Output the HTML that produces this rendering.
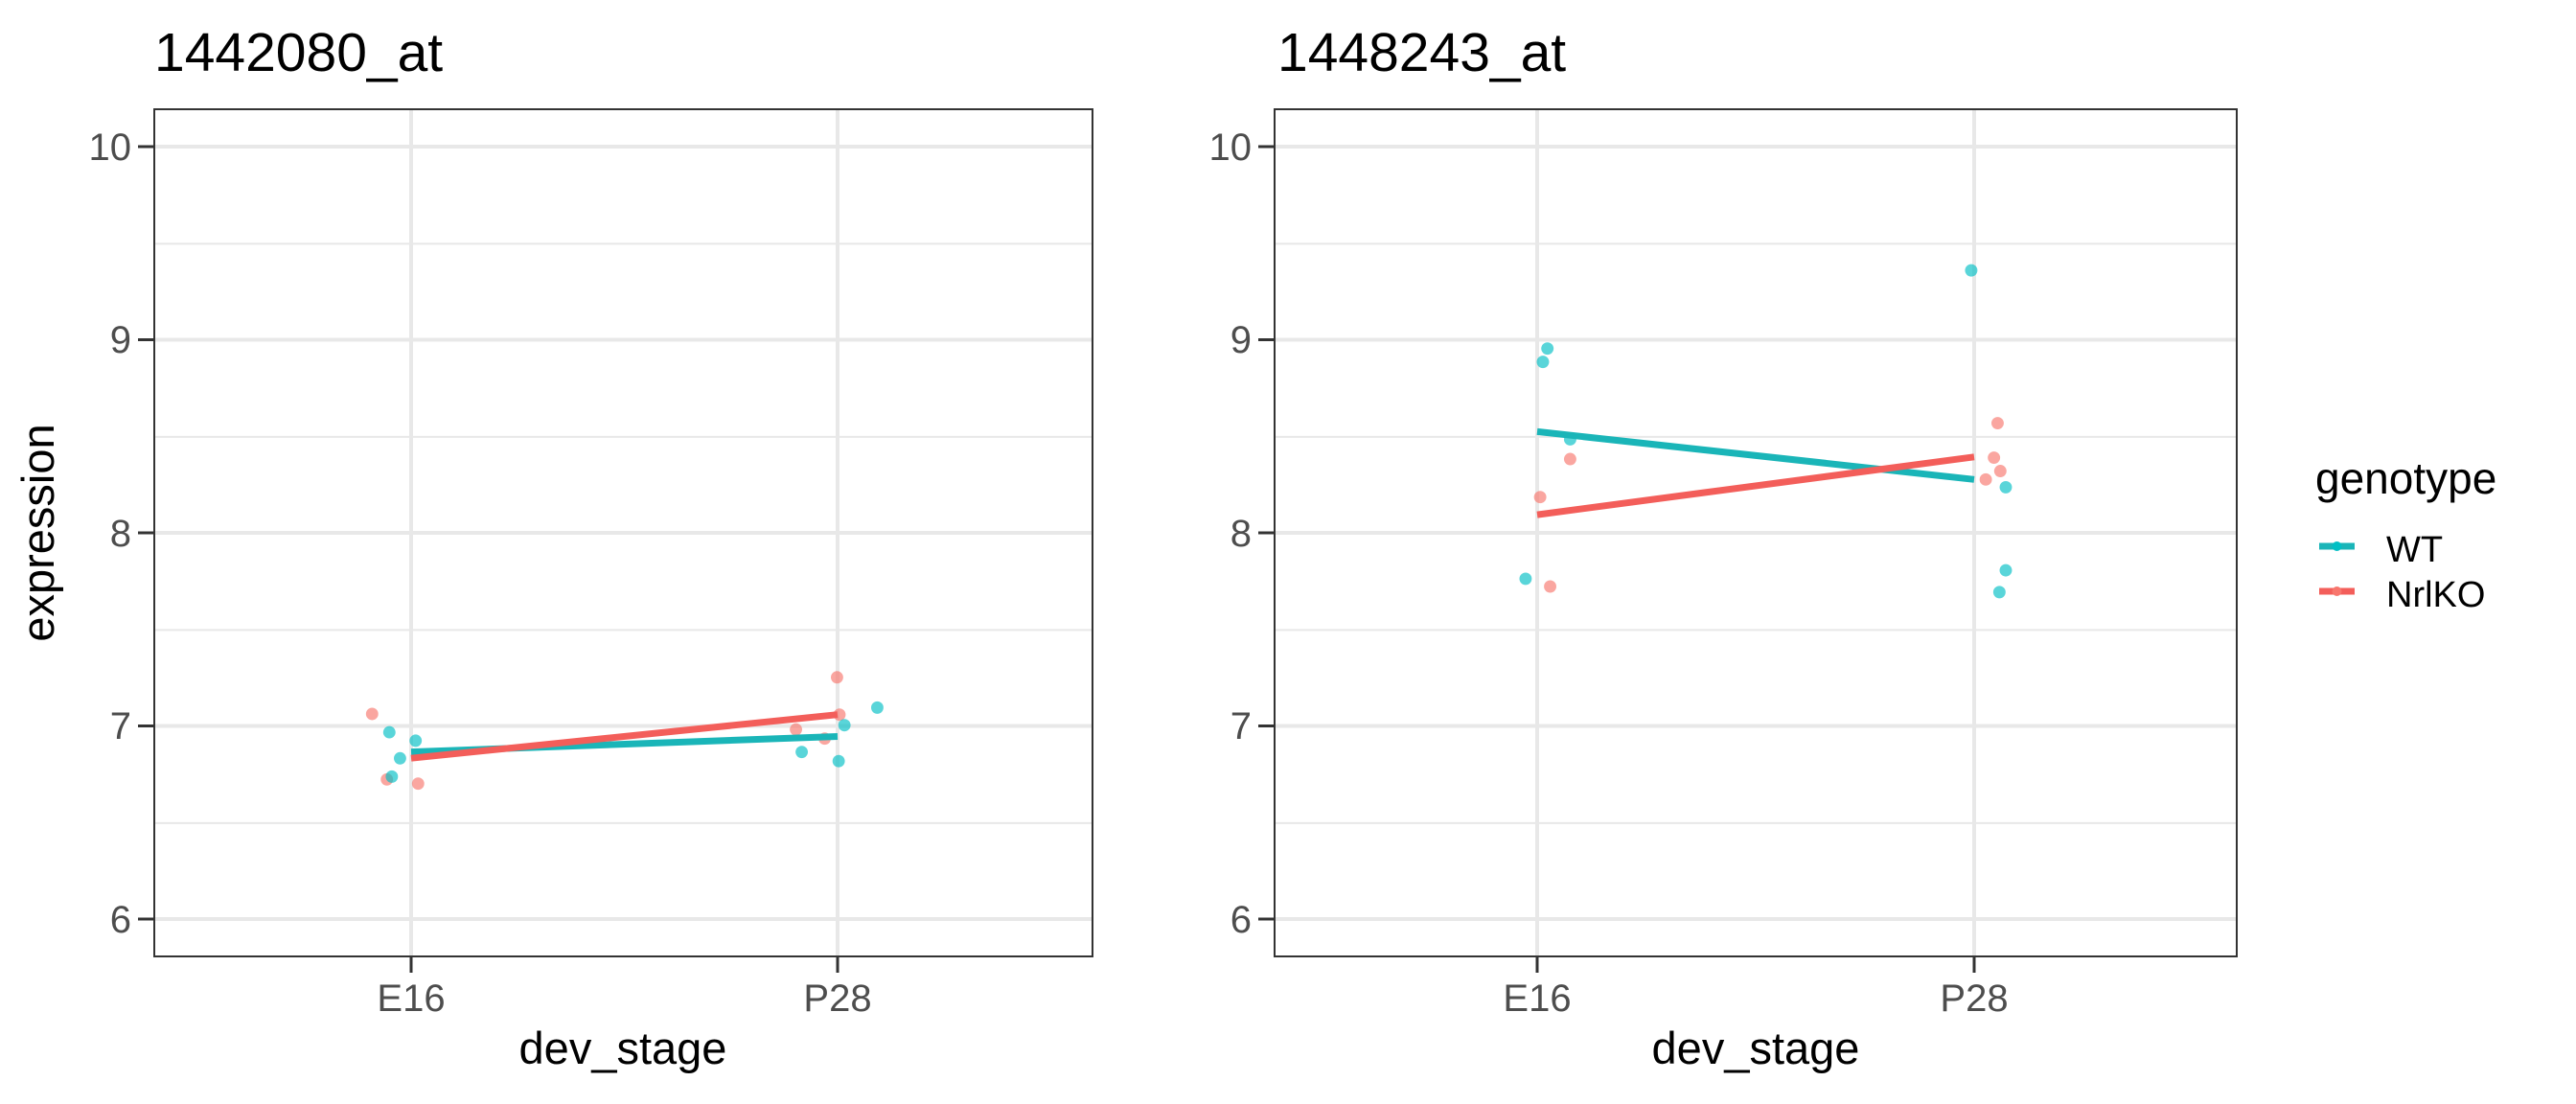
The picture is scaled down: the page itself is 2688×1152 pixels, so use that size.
<!DOCTYPE html>
<html><head><meta charset="utf-8"><style>
html,body{margin:0;padding:0;background:#fff}
svg{display:block}
text{font-family:"Liberation Sans",Arial,sans-serif}
</style></head><body>
<svg width="2688" height="1152" viewBox="0 0 2688 1152" xmlns="http://www.w3.org/2000/svg">
<rect width="2688" height="1152" fill="#fff"/>
<!-- LEFT PANEL -->
<g>
  <g stroke="#e8e8e8">
    <line x1="161" x2="1140" y1="254.4" y2="254.4" stroke-width="2"/>
    <line x1="161" x2="1140" y1="455.9" y2="455.9" stroke-width="2"/>
    <line x1="161" x2="1140" y1="657.4" y2="657.4" stroke-width="2"/>
    <line x1="161" x2="1140" y1="858.9" y2="858.9" stroke-width="2"/>
    <line x1="161" x2="1140" y1="153" y2="153" stroke-width="4"/>
    <line x1="161" x2="1140" y1="354.5" y2="354.5" stroke-width="4"/>
    <line x1="161" x2="1140" y1="556" y2="556" stroke-width="4"/>
    <line x1="161" x2="1140" y1="757.5" y2="757.5" stroke-width="4"/>
    <line x1="161" x2="1140" y1="959" y2="959" stroke-width="4"/>
    <line x1="429" x2="429" y1="114" y2="998" stroke-width="4"/>
    <line x1="874" x2="874" y1="114" y2="998" stroke-width="4"/>
  </g>
  <g transform="scale(0.857143,0.734694)">
    <g fill-opacity="0.65">
      <g fill="#F8766D">
        <ellipse cx="453" cy="1014" rx="7.5" ry="8.8"/><ellipse cx="471" cy="1107" rx="7.5" ry="8.8"/><ellipse cx="509" cy="1113" rx="7.5" ry="8.8"/><ellipse cx="1019" cy="962" rx="7.5" ry="8.8"/><ellipse cx="1022" cy="1015" rx="7.5" ry="8.8"/><ellipse cx="969" cy="1036" rx="7.5" ry="8.8"/><ellipse cx="1004" cy="1049" rx="7.5" ry="8.8"/>
      </g>
      <g fill="#00BFC4">
        <ellipse cx="474" cy="1040" rx="7.5" ry="8.8"/><ellipse cx="487" cy="1077" rx="7.5" ry="8.8"/><ellipse cx="477" cy="1103" rx="7.5" ry="8.8"/><ellipse cx="506" cy="1052" rx="7.5" ry="8.8"/><ellipse cx="976" cy="1068" rx="7.5" ry="8.8"/><ellipse cx="1021" cy="1081" rx="7.5" ry="8.8"/><ellipse cx="1028" cy="1030" rx="7.5" ry="8.8"/><ellipse cx="1068" cy="1005" rx="7.5" ry="8.8"/>
      </g>
    </g>
  </g>
  <line x1="429" y1="784.6" x2="874" y2="768.5" stroke="#1AB5B8" stroke-width="7"/>
  <line x1="429" y1="791.2" x2="874" y2="745.7" stroke="#F35E5A" stroke-width="7"/>
  <rect x="161" y="114" width="979" height="884" fill="none" stroke="#333" stroke-width="2"/>
  <g stroke="#333" stroke-width="3">
    <line x1="144" x2="161" y1="153" y2="153"/><line x1="144" x2="161" y1="354.5" y2="354.5"/><line x1="144" x2="161" y1="556" y2="556"/><line x1="144" x2="161" y1="757.5" y2="757.5"/><line x1="144" x2="161" y1="959" y2="959"/>
    <line x1="429" x2="429" y1="998" y2="1015"/><line x1="874" x2="874" y1="998" y2="1015"/>
  </g>
  <g fill="#4d4d4d" font-size="40" text-anchor="end">
    <text x="137" y="167">10</text><text x="137" y="368">9</text><text x="137" y="570">8</text><text x="137" y="771">7</text><text x="137" y="973">6</text>
  </g>
  <g fill="#4d4d4d" font-size="40" text-anchor="middle">
    <text x="429" y="1055">E16</text><text x="874" y="1055">P28</text>
  </g>
  <text x="650" y="1110" font-size="47" text-anchor="middle" fill="#000">dev_stage</text>
  <text transform="translate(56,556) rotate(-90)" font-size="47" text-anchor="middle" fill="#000">expression</text>
  <text x="161" y="74" font-size="57" fill="#000">1442080_at</text>
</g>
<!-- RIGHT PANEL -->
<g>
  <g stroke="#e8e8e8">
    <line x1="1330" x2="2334" y1="254.4" y2="254.4" stroke-width="2"/>
    <line x1="1330" x2="2334" y1="455.9" y2="455.9" stroke-width="2"/>
    <line x1="1330" x2="2334" y1="657.4" y2="657.4" stroke-width="2"/>
    <line x1="1330" x2="2334" y1="858.9" y2="858.9" stroke-width="2"/>
    <line x1="1330" x2="2334" y1="153" y2="153" stroke-width="4"/>
    <line x1="1330" x2="2334" y1="354.5" y2="354.5" stroke-width="4"/>
    <line x1="1330" x2="2334" y1="556" y2="556" stroke-width="4"/>
    <line x1="1330" x2="2334" y1="757.5" y2="757.5" stroke-width="4"/>
    <line x1="1330" x2="2334" y1="959" y2="959" stroke-width="4"/>
    <line x1="1604" x2="1604" y1="114" y2="998" stroke-width="4"/>
    <line x1="2060" x2="2060" y1="114" y2="998" stroke-width="4"/>
  </g>
  <g transform="translate(1200,0) scale(0.94898,0.734694)">
    <g fill-opacity="0.65">
      <g fill="#00BFC4">
        <ellipse cx="903" cy="384" rx="6.8" ry="8.8"/><ellipse cx="437" cy="495" rx="6.8" ry="8.8"/><ellipse cx="432" cy="514" rx="6.8" ry="8.8"/><ellipse cx="462" cy="624" rx="6.8" ry="8.8"/><ellipse cx="413" cy="822" rx="6.8" ry="8.8"/><ellipse cx="941" cy="692" rx="6.8" ry="8.8"/><ellipse cx="941" cy="810" rx="6.8" ry="8.8"/><ellipse cx="934" cy="841" rx="6.8" ry="8.8"/>
      </g>
      <g fill="#F8766D">
        <ellipse cx="429" cy="706" rx="6.8" ry="8.8"/><ellipse cx="462" cy="652" rx="6.8" ry="8.8"/><ellipse cx="440" cy="833" rx="6.8" ry="8.8"/><ellipse cx="932" cy="601" rx="6.8" ry="8.8"/><ellipse cx="928" cy="650" rx="6.8" ry="8.8"/><ellipse cx="935" cy="669" rx="6.8" ry="8.8"/><ellipse cx="919" cy="681" rx="6.8" ry="8.8"/>
      </g>
    </g>
  </g>
  <line x1="1604" y1="450.4" x2="2060" y2="500.3" stroke="#1AB5B8" stroke-width="7"/>
  <line x1="1604" y1="537.1" x2="2060" y2="476.8" stroke="#F35E5A" stroke-width="7"/>
  <rect x="1330" y="114" width="1004" height="884" fill="none" stroke="#333" stroke-width="2"/>
  <g stroke="#333" stroke-width="3">
    <line x1="1313" x2="1330" y1="153" y2="153"/><line x1="1313" x2="1330" y1="354.5" y2="354.5"/><line x1="1313" x2="1330" y1="556" y2="556"/><line x1="1313" x2="1330" y1="757.5" y2="757.5"/><line x1="1313" x2="1330" y1="959" y2="959"/>
    <line x1="1604" x2="1604" y1="998" y2="1015"/><line x1="2060" x2="2060" y1="998" y2="1015"/>
  </g>
  <g fill="#4d4d4d" font-size="40" text-anchor="end">
    <text x="1306" y="167">10</text><text x="1306" y="368">9</text><text x="1306" y="570">8</text><text x="1306" y="771">7</text><text x="1306" y="973">6</text>
  </g>
  <g fill="#4d4d4d" font-size="40" text-anchor="middle">
    <text x="1604" y="1055">E16</text><text x="2060" y="1055">P28</text>
  </g>
  <text x="1832" y="1110" font-size="47" text-anchor="middle" fill="#000">dev_stage</text>
  <text x="1333" y="74" font-size="57" fill="#000">1448243_at</text>
</g>
<!-- LEGEND -->
<text x="2416" y="515" font-size="46" fill="#000">genotype</text>
<line x1="2420" x2="2457" y1="570" y2="570" stroke="#1AB5B8" stroke-width="7"/>
<circle cx="2438.5" cy="570" r="5" fill="#00BFC4"/>
<line x1="2420" x2="2457" y1="617" y2="617" stroke="#F35E5A" stroke-width="7"/>
<circle cx="2438.5" cy="617" r="5" fill="#F8766D"/>
<text x="2490" y="586" font-size="38" fill="#000">WT</text>
<text x="2490" y="633" font-size="38" fill="#000">NrlKO</text>
</svg>
</body></html>
